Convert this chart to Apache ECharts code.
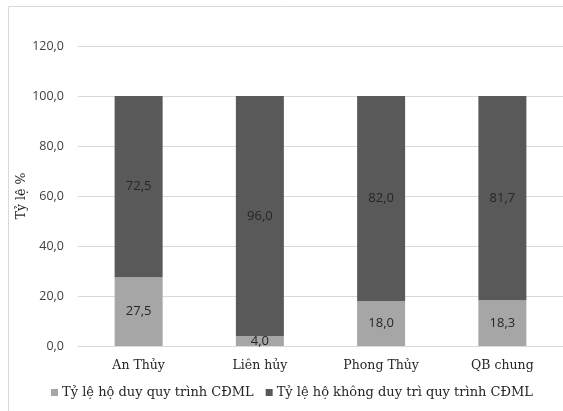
<!DOCTYPE html>
<html>
<head>
<meta charset="utf-8">
<script src="https://cdn.jsdelivr.net/npm/echarts@6/dist/echarts.min.js"></script>
<style>
html,body{margin:0;padding:0;background:#fff;}
#chart{width:563px;height:411px;}
</style>
</head>
<body>
<div id="chart"></div>
<script>
// Communes / groups
const categories = ['An Thủy', 'Liên hủy', 'Phong Thủy', 'QB chung'];
// Share of households keeping the process (%)
const keptValues = [27.5, 4.0, 18.0, 18.3];
// Share of households not keeping the process (%)
const notKeptValues = [72.5, 96.0, 82.0, 81.7];
const seriesNames = ['Tỷ lệ hộ duy quy trình CĐML', 'Tỷ lệ hộ không duy trì quy trình CĐML'];
const yTicks = [0, 20, 40, 60, 80, 100, 120];

const fmt = v => v.toFixed(1).replace('.', ',');
const serif = '"DejaVu Serif", "Liberation Serif", serif';
const sans = '"Open Sans", "Noto Sans", sans-serif';

const chart = echarts.init(document.getElementById('chart'), null, {renderer: 'canvas'});
chart.setOption({
  animation: false,
  backgroundColor: '#fff',
  graphic: [{
    type: 'rect',
    shape: {x: 8.5, y: 6.5, width: 600, height: 450},
    style: {fill: 'none', stroke: '#D9D9D9', lineWidth: 1},
    silent: true
  }],
  grid: {left: 78, top: 46, width: 495, height: 300},
  legend: {
    data: seriesNames,
    top: 381,
    left: 46,
    itemWidth: 7,
    itemHeight: 7,
    itemGap: 12,
    icon: 'rect',
    textStyle: {fontFamily: serif, fontSize: 13, color: '#262626', padding: [0, 0, 0, -1]}
  },
  xAxis: {
    type: 'category',
    data: categories,
    axisTick: {show: false},
    axisLine: {lineStyle: {color: '#D9D9D9'}},
    axisLabel: {fontFamily: serif, fontSize: 12.5, color: '#262626', margin: 13}
  },
  yAxis: {
    type: 'value',
    min: yTicks[0],
    max: yTicks[yTicks.length - 1],
    interval: 20,
    name: 'Tỷ lệ %',
    nameLocation: 'middle',
    nameGap: 50,
    nameMoveOverlap: false,
    nameRotate: 90,
    nameTextStyle: {fontFamily: serif, fontSize: 12.5, color: '#262626'},
    axisLine: {show: false},
    axisTick: {show: false},
    splitLine: {lineStyle: {color: '#D9D9D9'}},
    axisLabel: {fontFamily: sans, fontSize: 12.5, color: '#404040', margin: 14, formatter: fmt}
  },
  series: [
    {
      name: seriesNames[0],
      type: 'bar',
      stack: 'total',
      barWidth: 48,
      data: keptValues,
      itemStyle: {color: '#A6A6A6'},
      label: {show: true, position: 'inside', formatter: p => fmt(p.value), fontFamily: sans, fontSize: 13, color: '#262626'}
    },
    {
      name: seriesNames[1],
      type: 'bar',
      stack: 'total',
      barWidth: 48,
      data: notKeptValues,
      itemStyle: {color: '#595959'},
      label: {show: true, position: 'inside', formatter: p => fmt(p.value), fontFamily: sans, fontSize: 13, color: '#262626'}
    }
  ]
});
</script>
</body>
</html>
